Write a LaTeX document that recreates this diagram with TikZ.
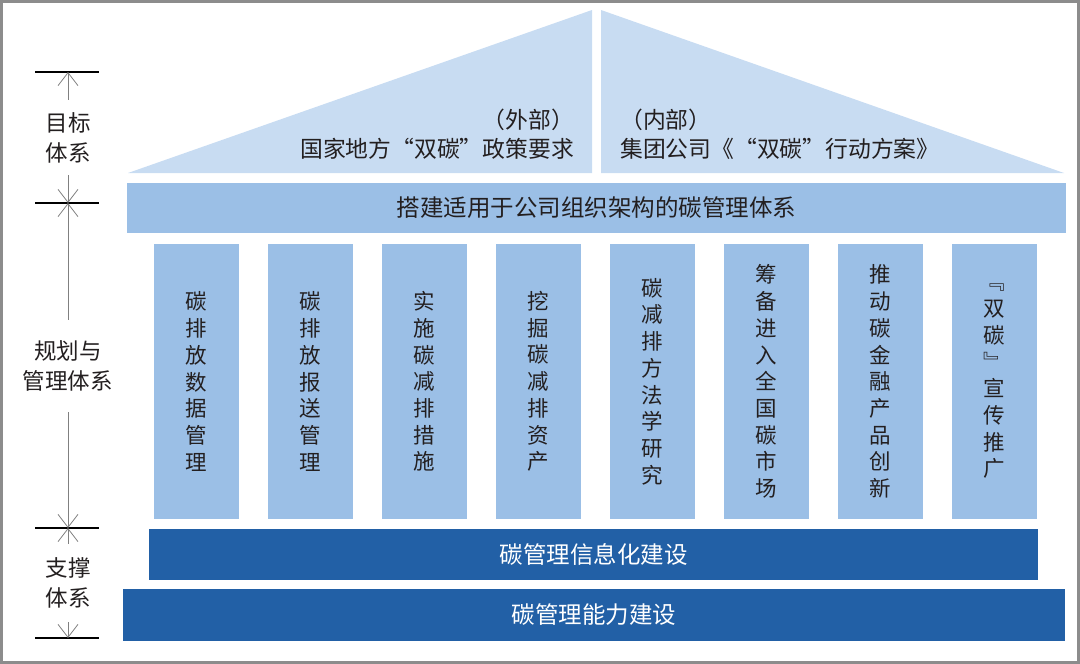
\documentclass[tikz,border=0pt]{standalone}
\usepackage{fontspec}
\setmainfont{Noto Sans CJK SC}
\usetikzlibrary{arrows.meta}
\definecolor{roofblue}{HTML}{C8DCF2}
\definecolor{midblue}{HTML}{9BBFE6}
\definecolor{darkblue}{HTML}{2260A6}
\definecolor{inkgray}{HTML}{231F20}
\definecolor{framegray}{HTML}{8C8C8C}
\tikzset{
  pillar/.style={fill=midblue,minimum width=85pt,minimum height=275pt,inner sep=0pt,
    align=center,text=inkgray,font=\fontsize{21.5}{26.7}\selectfont},
  band/.style={inner sep=0pt,font=\fontsize{23.5}{28}\selectfont},
  rooftext/.style={inner sep=0pt,text=inkgray,font=\fontsize{22.8}{29}\selectfont},
  tick/.style={line width=2.6pt},
  scaleline/.style={draw=gray,line width=1pt,
    -{Straight Barb[length=13pt,width=20pt,line width=0.8pt]}},
  scalelabel/.style={align=center,inner sep=0pt,text=inkgray,
    font=\fontsize{22.5}{30}\selectfont}
}
\begin{document}
\begin{tikzpicture}[x=1pt,y=-1pt]
  \useasboundingbox (0,0) rectangle (1080,664);
  \draw[line width=3pt,framegray] (1.5,1.5) rectangle (1078.5,662.5);
  % roof
  \fill[roofblue] (128,173) -- (592,173) -- (592,10) -- cycle;
  \fill[roofblue] (601,10) -- (601,173) -- (1064,173) -- cycle;
  \node[rooftext,anchor=east,align=right] (outside) at (574,134) {（外部）\\国家地方“双碳”政策要求};
  \node[rooftext,anchor=west,align=left] (inside) at (620,134) {（内部）\\集团公司《“双碳”行动方案》};
  % frame band
  \node[band,fill=midblue,text=inkgray,minimum width=939pt,minimum height=50pt] (frame) at (596.5,208) {搭建适用于公司组织架构的碳管理体系};
  % pillars
  \foreach \t [count=\i from 0] in {{碳\\排\\放\\数\\据\\管\\理},{碳\\排\\放\\报\\送\\管\\理},
      {实\\施\\碳\\减\\排\\措\\施},{挖\\掘\\碳\\减\\排\\资\\产},{碳\\减\\排\\方\\法\\学\\研\\究},
      {筹\\备\\进\\入\\全\\国\\碳\\市\\场},{推\\动\\碳\\金\\融\\产\\品\\创\\新},
      {﹃\\双\\碳\\﹄\\宣\\传\\推\\广}}
    \node[pillar] (p\i) at (196.5+114*\i,381.5) {\t};
  % support bands
  \node[band,fill=darkblue,text=white,minimum width=889pt,minimum height=51pt] (info) at (593.5,554.5) {碳管理信息化建设};
  \node[band,fill=darkblue,text=white,minimum width=942pt,minimum height=52pt] (ability) at (594,615) {碳管理能力建设};
  % scale on the left
  \coordinate (t1) at (68,72);
  \coordinate (t2) at (68,203);
  \coordinate (t3) at (68,528);
  \coordinate (t4) at (68,638);
  \foreach \c in {t1,t2,t3,t4}
    \draw[tick] ([xshift=-33pt]\c) -- ([xshift=31pt]\c);
  \node[scalelabel,minimum height=75pt] (goal) at (68,137.5) {目标\\体系};
  \node[scalelabel,minimum height=92pt] (plan) at (68,366) {规划与\\管理体系};
  \node[scalelabel,minimum height=78pt] (support) at (68,583) {支撑\\体系};
  \draw[scaleline] (goal) -- (t1);
  \draw[scaleline] (goal) -- (t2);
  \draw[scaleline] (plan) -- (t2);
  \draw[scaleline] (plan) -- (t3);
  \draw[scaleline] (support) -- (t3);
  \draw[scaleline] (support) -- (t4);
\end{tikzpicture}
\end{document}
